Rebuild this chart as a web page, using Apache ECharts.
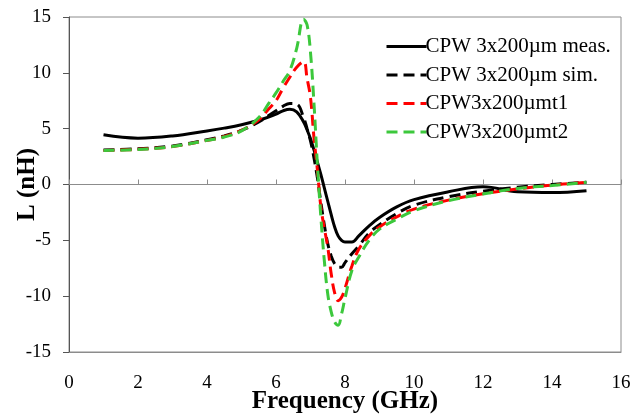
<!DOCTYPE html>
<html>
<head>
<meta charset="utf-8">
<script src="https://cdn.jsdelivr.net/npm/echarts@6/dist/echarts.min.js"></script>
<style>
html,body{margin:0;padding:0;background:#fff;}
#chart{width:640px;height:416px;}
</style>
</head>
<body>
<div id="chart"></div>
<script>
// Frequency grid (GHz)
var freq = [1, 2, 3, 4, 4.5, 5, 5.5, 5.8, 6.0, 6.2, 6.4, 6.6, 6.8, 6.9, 7.0, 7.1, 7.2, 7.3, 7.4, 7.5, 7.6, 7.7, 7.8, 7.9, 8.0, 8.2, 8.4, 8.7, 9.0, 9.5, 10, 11, 12, 13, 14, 15];
// Inductance L (nH)
var measL = [4.45, 4.15, 4.35, 4.8, 5.05, 5.35, 5.75, 6.05, 6.3, 6.6, 6.75, 6.5, 5.6, 4.9, 4.1, 3.1, 2.0, 0.9, -0.3, -1.5, -2.7, -3.8, -4.6, -5.0, -5.15, -5.15, -4.6, -3.7, -2.95, -2.0, -1.35, -0.65, -0.2, -0.65, -0.72, -0.55];
var simL = [3.1, 3.2, 3.45, 4.0, 4.35, 4.85, 5.6, 6.2, 6.6, 7.0, 7.25, 7.2, 6.0, 5.0, 3.9, 2.4, 0.6, -1.6, -3.6, -5.3, -6.4, -7.1, -7.4, -7.4, -7.0, -6.2, -5.5, -4.35, -3.6, -2.6, -1.85, -1.1, -0.6, -0.25, 0.0, 0.2];
var t1L = [3.05, 3.15, 3.4, 3.95, 4.3, 4.85, 5.8, 6.8, 7.5, 8.6, 9.6, 10.5, 11.0, 9.5, 7.8, 4.2, 1.3, -2.0, -3.9, -5.6, -8.0, -9.7, -10.4, -10.1, -9.3, -7.3, -5.8, -4.6, -3.8, -2.9, -2.2, -1.4, -0.83, -0.4, -0.05, 0.2];
var t2L = [3.05, 3.13, 3.4, 3.95, 4.25, 4.8, 6.0, 7.3, 8.2, 9.2, 10.2, 12.2, 14.8, 14.3, 11.8, 7.3, 1.8, -2.9, -6.8, -9.8, -11.4, -12.3, -12.6, -11.6, -10.2, -7.7, -6.5, -5.0, -4.0, -3.1, -2.35, -1.45, -0.85, -0.35, -0.1, 0.2];
var seriesNames = ['CPW 3x200\u00b5m meas.', 'CPW 3x200\u00b5m sim.', 'CPW3x200\u00b5mt1', 'CPW3x200\u00b5mt2'];
var xTicks = [0, 2, 4, 6, 8, 10, 12, 14, 16];
var yTicks = [-15, -10, -5, 0, 5, 10, 15];

function pairs(ys) { return freq.map(function (f, i) { return [f, ys[i]]; }); }

var FONT = 'Liberation Serif';
var chart = echarts.init(document.getElementById('chart'), null, {renderer: 'canvas'});
var dash = [11, 6];
function mkSeries(name, ys, color, type) {
  return {
    name: name, type: 'line', xAxisIndex: 0, yAxisIndex: 0,
    data: pairs(ys), symbol: 'none', showSymbol: false, smooth: 0.4,
    lineStyle: {color: color, width: 3, type: type},
    itemStyle: {color: color},
    emphasis: {disabled: true},
    animation: false
  };
}
chart.setOption({
  animation: false,
  backgroundColor: '#fff',
  grid: {left: 69, right: 19, top: 17, bottom: 64, containLabel: false, outerBoundsMode: 'none',
    show: true, borderColor: '#8c8c8c', borderWidth: 1, backgroundColor: 'transparent'},
  legend: {
    orient: 'vertical', left: 380, top: 31,
    itemWidth: 40, itemHeight: 14, itemGap: 7.5,
    itemStyle: {opacity: 0},
    lineStyle: {width: 3},
    textStyle: {fontFamily: FONT, fontSize: 21, color: '#000', lineHeight: 20, padding: [0, 0, 0, -6]},
    data: seriesNames
  },
  xAxis: [{
    type: 'value', min: 0, max: 16, interval: 2, position: 'bottom',
    axisLine: {show: true, onZero: false, lineStyle: {color: '#8c8c8c', width: 1}},
    axisTick: {show: false},
    splitLine: {show: false},
    axisLabel: {fontFamily: FONT, fontSize: 19, color: '#000', margin: 22,
      formatter: function (v) { return xTicks.indexOf(v) >= 0 ? String(v) : ''; }},
    name: 'Frequency (GHz)', nameLocation: 'middle', nameGap: 37, nameMoveOverlap: false,
    nameTextStyle: {fontFamily: FONT, fontSize: 25, fontWeight: 'bold', color: '#000'}
  }, {
    type: 'value', min: 0, max: 16, interval: 2,
    axisLine: {show: true, onZero: true, onZeroAxisIndex: 0, lineStyle: {color: '#8c8c8c', width: 1}},
    axisTick: {show: true, inside: false, length: 5, lineStyle: {color: '#8c8c8c'}},
    axisLabel: {show: false},
    splitLine: {show: false}
  }],
  yAxis: [{
    type: 'value', min: -15, max: 15, interval: 5,
    axisLine: {show: true, lineStyle: {color: '#555', width: 1}},
    axisTick: {show: true, inside: false, length: 6, lineStyle: {color: '#555'}},
    splitLine: {show: false},
    axisLabel: {fontFamily: FONT, fontSize: 19, color: '#000', margin: 18,
      formatter: function (v) { return yTicks.indexOf(v) >= 0 ? String(v) : ''; }},
    name: 'L (nH)', nameLocation: 'middle', nameGap: 29, nameRotate: 90, nameMoveOverlap: false,
    nameTextStyle: {fontFamily: FONT, fontSize: 25, fontWeight: 'bold', color: '#000'}
  }],
  series: [
    mkSeries(seriesNames[0], measL, '#000000', 'solid'),
    mkSeries(seriesNames[1], simL, '#000000', dash),
    mkSeries(seriesNames[2], t1L, '#ff0000', dash),
    mkSeries(seriesNames[3], t2L, '#3cc83c', dash)
  ]
});
</script>
</body>
</html>
